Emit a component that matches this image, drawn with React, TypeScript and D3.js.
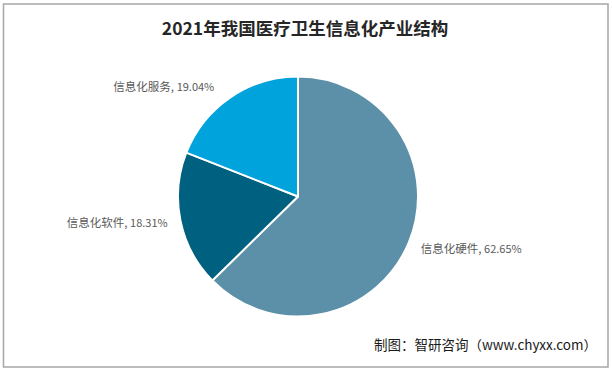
import React, { useEffect, useRef } from 'react';
import * as d3 from 'd3';

// pie data
const categories = ['信息化硬件', '信息化软件', '信息化服务'];
const shares = [62.65, 18.31, 19.04];
const sliceColors = ['#5b90a8', '#00607f', '#00a3db'];

const titleText = '2021年我国医疗卫生信息化产业结构';
const sourceText = '制图：智研咨询（www.chyxx.com）';

const W = 612;
const H = 370;

const App = () => {
  const svgRef = useRef<SVGSVGElement>(null);

  useEffect(() => {
    const svg = d3.select(svgRef.current);
    svg.selectAll('*').remove();

    const cjk = '"Noto Sans CJK SC", "Noto Sans", sans-serif';

    // background + frame
    svg.append('rect')
      .attr('x', 0).attr('y', 0)
      .attr('width', W).attr('height', H)
      .attr('fill', '#ffffff');
    svg.append('rect')
      .attr('x', 3.5).attr('y', 4)
      .attr('width', 604.5).attr('height', 363)
      .attr('fill', 'none')
      .attr('stroke', '#a6a6a6')
      .attr('stroke-width', 1.5);

    // title
    svg.append('text')
      .attr('x', 305).attr('y', 35)
      .attr('text-anchor', 'middle')
      .attr('font-family', cjk)
      .attr('font-weight', 'bold')
      .attr('font-size', 17.5)
      .attr('fill', '#262626')
      .text(titleText);

    const cx = 298;
    const cy = 196.5;
    const r = 120;

    const data = categories.map((c, i) => ({ name: c, value: shares[i], color: sliceColors[i] }));

    const pie = d3.pie<any>()
      .sort(null)
      .value(d => d.value);

    const arc = d3.arc<any>()
      .innerRadius(0)
      .outerRadius(r);

    const g = svg.append('g').attr('transform', `translate(${cx},${cy})`);
    const arcs = pie(data);

    g.selectAll('path')
      .data(arcs)
      .enter().append('path')
      .attr('d', arc)
      .attr('fill', d => d.data.color)
      .attr('stroke', '#ffffff')
      .attr('stroke-width', 2)
      .attr('stroke-linejoin', 'round');

    // labels outside the slices
    const labelR = 131;
    const nudge = [{ dx: 2, dy: 2 }, { dx: -2, dy: 0 }, { dx: -10, dy: -1 }];
    g.selectAll('text.lbl')
      .data(arcs)
      .enter().append('text')
      .attr('class', 'lbl')
      .each(function (d, i) {
        const mid = (d.startAngle + d.endAngle) / 2;
        const x = Math.sin(mid) * labelR + nudge[i].dx;
        const y = -Math.cos(mid) * labelR + nudge[i].dy;
        const t = d3.select(this)
          .attr('x', x)
          .attr('y', y)
          .attr('dy', '0.35em')
          .attr('text-anchor', x >= 0 ? 'start' : 'end')
          .attr('font-family', cjk)
          .attr('font-size', 11.5)
          .attr('fill', '#595959');
        t.append('tspan').text(d.data.name + ', ');
        t.append('tspan').attr('font-size', 11).text(d.data.value.toFixed(2) + '%');
      });

    // source note
    svg.append('text')
      .attr('x', 597).attr('y', 350)
      .attr('text-anchor', 'end')
      .attr('font-family', cjk)
      .attr('font-size', 13.5)
      .attr('fill', '#1a1a1a')
      .text(sourceText);
  }, []);

  return (
    <svg
      ref={svgRef}
      width={W}
      height={H}
      style={{ position: 'absolute', left: 0, top: 0, display: 'block' }}
    ></svg>
  );
};

export default App;
